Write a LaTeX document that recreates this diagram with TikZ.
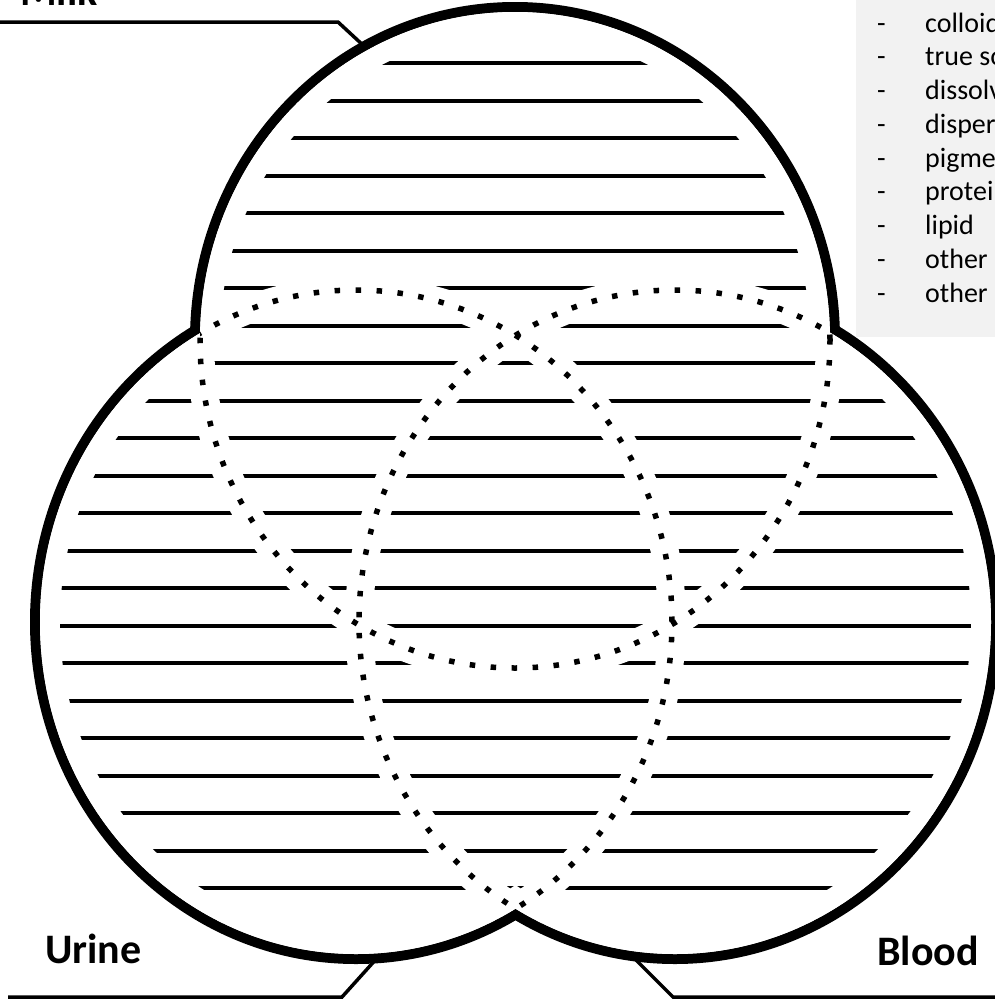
\documentclass[tikz,border=0pt]{standalone}
\usepackage{fontspec}
\setmainfont{Carlito}
\tikzset{
  outline/.style={draw=black, line width=20pt},
  hatchline/.style={black, line width=4pt},
  halo/.style={white, line width=28pt},
  dotline/.style={black, line width=5.5pt, dash pattern=on 5.5pt off 15.5pt},
  leader/.style={black, line width=3.5pt},
  fluid/.style={font=\fontsize{42}{50}\selectfont\bfseries, inner sep=0pt, anchor=base west},
  item/.style={font=\fontsize{28}{34}\selectfont, inner sep=0pt, anchor=base west}
}

\begin{document}
\begin{tikzpicture}[x=1pt, y=-1pt]
    \useasboundingbox (0,0) rectangle (995,999);
    \clip (0,0) rectangle (995,999);

    % Centres of the three fluids
    \coordinate (milkc) at (515,340);
    \coordinate (urinec) at (356,622);
    \coordinate (bloodc) at (675,622);

    % Word list
    \fill[black!5] (856,-5) rectangle (1000,337);
    \foreach \txt [count=\i from 0] in {colloid, true so, dissolv, disper, pigme, protei, lipid, other, other} {
        \node[item] (dash\i) at (877,{32+33.75*\i}) {-};
        \node[item] (word\i) at (925,{32+33.75*\i}) {\txt};
    }

    % Outer outline (only the outer half of the stroke survives)
    \draw[outline] (milkc) ellipse [x radius=315pt, y radius=328pt]
                   (urinec) ellipse [x radius=316pt, y radius=332pt]
                   (bloodc) ellipse [x radius=316pt, y radius=332pt];
    \fill[white] (milkc) ellipse [x radius=315pt, y radius=328pt]
                 (urinec) ellipse [x radius=316pt, y radius=332pt]
                 (bloodc) ellipse [x radius=316pt, y radius=332pt];

    % Hatching, kept inside the outline
    \begin{scope}
        \clip (milkc) ellipse [x radius=295pt, y radius=308pt]
              (urinec) ellipse [x radius=296pt, y radius=312pt]
              (bloodc) ellipse [x radius=296pt, y radius=312pt];
        \foreach \k in {0,...,22}
            \draw[hatchline] (0,{63+37.5*\k}) -- (995,{63+37.5*\k});
    \end{scope}

    % Gaps along the inner arcs
    \begin{scope}
        \clip (milkc) ellipse [x radius=315pt, y radius=328pt]
              (urinec) ellipse [x radius=316pt, y radius=332pt]
              (bloodc) ellipse [x radius=316pt, y radius=332pt];
        \draw[halo] (milkc) ellipse [x radius=315pt, y radius=328pt]
                    (urinec) ellipse [x radius=316pt, y radius=332pt]
                    (bloodc) ellipse [x radius=316pt, y radius=332pt];
    \end{scope}

    % Dotted inner arcs
    \begin{scope}
        \clip (urinec) ellipse [x radius=316pt, y radius=332pt]
              (bloodc) ellipse [x radius=316pt, y radius=332pt];
        \draw[dotline] (milkc) ellipse [x radius=315pt, y radius=328pt];
    \end{scope}
    \begin{scope}
        \clip (milkc) ellipse [x radius=315pt, y radius=328pt]
              (bloodc) ellipse [x radius=316pt, y radius=332pt];
        \draw[dotline] (urinec) ellipse [x radius=316pt, y radius=332pt];
    \end{scope}
    \begin{scope}
        \clip (milkc) ellipse [x radius=315pt, y radius=328pt]
              (urinec) ellipse [x radius=316pt, y radius=332pt];
        \draw[dotline] (bloodc) ellipse [x radius=316pt, y radius=332pt];
    \end{scope}

    % Labels
    \node[fluid] (milk) at (20,5) {Milk};
    \node[fluid] (urine) at (45,963) {Urine};
    \node[fluid] (blood) at (877,965) {Blood};

    % Leaders
    \coordinate (milkfoot) at (0,22);
    \coordinate (milkknee) at (338,22);
    \coordinate (milktip) at (365,47);
    \coordinate (urinefoot) at (8,997);
    \coordinate (urineknee) at (342,997);
    \coordinate (urinetip) at (378,957);
    \coordinate (bloodfoot) at (995,997);
    \coordinate (bloodknee) at (673,997);
    \coordinate (bloodtip) at (633,957);
    \draw[leader] (milkfoot) -- (milkknee) -- (milktip);
    \draw[leader] (urinefoot) -- (urineknee) -- (urinetip);
    \draw[leader] (bloodfoot) -- (bloodknee) -- (bloodtip);
\end{tikzpicture}
\end{document}
